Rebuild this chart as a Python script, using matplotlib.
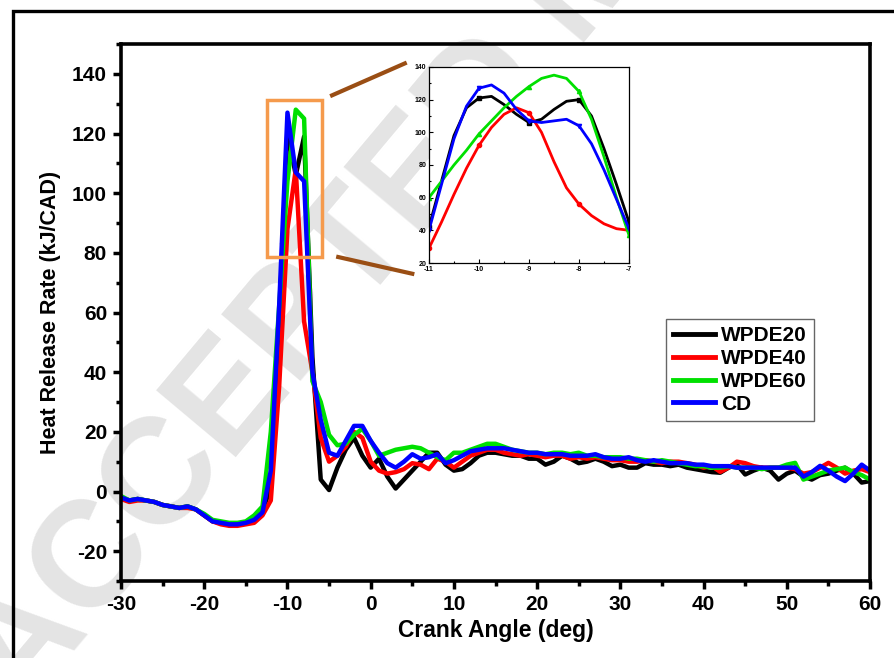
import numpy as np
import matplotlib
matplotlib.use("Agg")
from matplotlib import pyplot as plt
from matplotlib.patches import Rectangle
from matplotlib.ticker import MultipleLocator

plt.rcParams['font.family'] = ['Liberation Sans', 'DejaVu Sans']
plt.rcParams['font.weight'] = 'bold'
plt.rcParams['axes.unicode_minus'] = False

# crank angle, 1 deg steps
angle = list(range(-30, 61))

pre = [-2, -3, -2.5, -3, -3.5, -4.5, -5, -5.5, -5, -6, -8, -10, -10.5, -11, -11, -10.5, -9.5, -7]
pre_red = [-2.5, -3.5, -3, -3, -3.5, -4.5, -5, -5.5, -5.5, -6, -8, -10, -11, -11.5, -11.5, -11, -10.5, -8]
pre_green = [-1.5, -3, -2.5, -3, -3.5, -4.5, -5, -5.5, -5, -6, -7.5, -9.5, -10, -10.5, -10.5, -10, -8, -5]

wpde20 = pre + [2, 55, 121, 106, 119, 45, 4, 0.5, 8, 14, 18, 12, 8, 11, 5, 1, 4, 7, 10, 13,
                13, 9, 7, 7.5, 9.5, 12, 13, 13, 12.5, 12, 12, 11, 11, 9, 10, 12, 11, 9.5, 10, 11,
                10, 8.5, 9, 8, 8, 9.5, 9, 9, 8.5, 9, 8, 7.5, 7, 6.5, 6.3, 8, 9, 5.7, 7, 8,
                7, 4, 6, 7, 5, 4, 5.5, 6, 7, 8, 6, 3, 3.5]
wpde40 = pre_red + [-3, 35, 88, 108, 57, 40, 18, 10, 12, 15, 20, 18, 10, 7, 6, 6.5, 7.5, 9.5, 9, 7.5,
                    11, 10, 8, 10, 12, 13, 14, 14, 13, 12.5, 12, 12.5, 12, 11.5, 12, 12, 11, 11.5, 11, 11.5,
                    11, 10.5, 10.5, 10, 10, 10.5, 10, 9.5, 10, 10, 9.5, 9, 8, 8.5, 6.6, 8, 10, 9.5, 8.5, 8,
                    8, 8, 8, 7.5, 6, 6.5, 8, 9.6, 8, 6, 7, 7.5, 6.5]
wpde60 = pre_green + [20, 62, 104, 128, 125, 37, 30, 19, 15.5, 16, 19, 21, 17, 12, 13, 14, 14.5, 15, 14.5, 13,
                      11.5, 10.5, 13, 13, 14, 15, 16, 16, 15, 14, 13.5, 13, 13, 12.5, 13, 13, 12.5, 13, 12, 12,
                      11.5, 11.5, 11.5, 11, 11, 10.5, 10, 10.5, 10, 9.5, 9, 8.5, 8.5, 8, 8, 8.5, 8, 8, 8, 7.5,
                      8, 8, 9, 9.6, 4, 5, 6, 7, 7.5, 8, 6.5, 5.5, 4]
cd = pre + [7, 62, 127, 107, 104, 40, 24, 13, 12, 17, 22, 22, 17, 13, 9.5, 8, 10, 12.5, 11, 11.5,
            12.5, 9.5, 10.5, 12, 13.5, 14, 14.5, 14.5, 14.5, 14, 13.5, 13, 13, 12.5, 12.5, 12.5, 12, 12, 12, 12.5,
            11.5, 11, 11, 11.5, 10.5, 10, 10.5, 10, 9.5, 9.5, 9.5, 9, 9, 8.5, 8.5, 8.5, 8, 8, 8, 8,
            8, 8, 8, 8, 5, 6.5, 8.6, 7, 5, 3.5, 6, 9, 7]

# zoomed peak region (inset), 0.25 deg steps
inset_angle = [-11 + 0.25 * i for i in range(17)]
in20 = [42, 70, 98, 115, 121, 122, 117, 111, 106, 108, 114, 119, 120, 110, 90, 68, 45]
in40 = [29, 45, 62, 78, 92, 103, 111, 115, 112, 100, 82, 66, 56, 49, 44, 41, 40]
in60 = [60, 70, 80, 89, 99, 107, 115, 122, 128, 133, 135, 133, 125, 108, 85, 60, 37]
incd = [40, 68, 96, 116, 127, 129, 124, 114, 107, 106, 107, 108, 104, 93, 77, 59, 41]

labels = ['WPDE20', 'WPDE40', 'WPDE60', 'CD']
colors = ['black', '#ff0000', '#00e000', '#0000ff']
series = [wpde20, wpde40, wpde60, cd]
inset_series = [in20, in40, in60, incd]
markers = ['s', 'o', '^', 'v']

fig = plt.figure(figsize=(8.95, 6.58), dpi=100)

# watermark
fig.text(0.66, 1.04, 'ACCEPTED MANUSCRIPT', fontsize=108, rotation=50, color='#e4e4e4',
         ha='center', va='center', zorder=-5, fontweight='bold', rotation_mode='anchor')

# outer frame
fig.patches.append(Rectangle((13 / 895, -0.1), 1.2, 1.1 - 11 / 658, transform=fig.transFigure,
                             fill=False, lw=2.4, edgecolor='black'))

ax = fig.add_axes([0.1352, 0.1170, 0.8369, 0.8161])
ax.patch.set_alpha(0)
for s, c, l in zip(series, colors, labels):
    assert len(s) == len(angle)
    ax.plot(angle, s, color=c, lw=3.2, label=l)

ax.set_xlim(-30, 60)
ax.set_ylim(-30, 150)
ax.xaxis.set_major_locator(MultipleLocator(10))
ax.xaxis.set_minor_locator(MultipleLocator(5))
ax.set_yticks(range(-20, 141, 20))
ax.yaxis.set_minor_locator(MultipleLocator(10))
ax.tick_params(which='major', direction='out', length=6, width=2.5, labelsize=15, pad=4)
ax.tick_params(which='minor', direction='out', length=3.5, width=2.5)
for sp in ax.spines.values():
    sp.set_linewidth(2.6)
ax.set_xlabel('Crank Angle (deg)', fontsize=16.5, fontweight='bold', labelpad=4)
ax.set_ylabel('Heat Release Rate (kJ/CAD)', fontsize=15.5, fontweight='bold', labelpad=8)

leg = ax.legend(loc='upper right', bbox_to_anchor=(0.939, 0.507), fontsize=15,
                handlelength=2.0, handletextpad=0.3, labelspacing=0.18, borderpad=0.35,
                fancybox=False, framealpha=1)
leg.get_frame().set_edgecolor('#666666')
leg.get_frame().set_linewidth(1.0)
for h in leg.get_lines():
    h.set_linewidth(3.5)

# zoom box and connector lines
ax.add_patch(Rectangle((-12.5, 78.7), 6.6, 52.5, fill=False, edgecolor='#f59a4c', lw=2.5, zorder=5))
ax.plot([-4.64, 4.1], [132.8, 143.5], color='#9a4e14', lw=3, clip_on=False)
ax.plot([-3.9, 5.0], [78.6, 73.0], color='#9a4e14', lw=3, clip_on=False)

# inset
axi = fig.add_axes([0.4793, 0.6003, 0.2235, 0.2979])
for s, c, m in zip(inset_series, colors, markers):
    axi.plot(inset_angle, s, color=c, lw=2, marker=m, markersize=3, markevery=4)
axi.set_xlim(-11, -7)
axi.set_ylim(20, 140)
axi.xaxis.set_major_locator(MultipleLocator(1))
axi.xaxis.set_minor_locator(MultipleLocator(0.5))
axi.yaxis.set_major_locator(MultipleLocator(20))
axi.yaxis.set_minor_locator(MultipleLocator(10))
axi.tick_params(which='both', direction='in', labelsize=5, width=0.8, pad=2)
axi.tick_params(which='major', length=3)
axi.tick_params(which='minor', length=1.5)
for sp in axi.spines.values():
    sp.set_linewidth(0.9)

fig.savefig('out.png', dpi=100)
